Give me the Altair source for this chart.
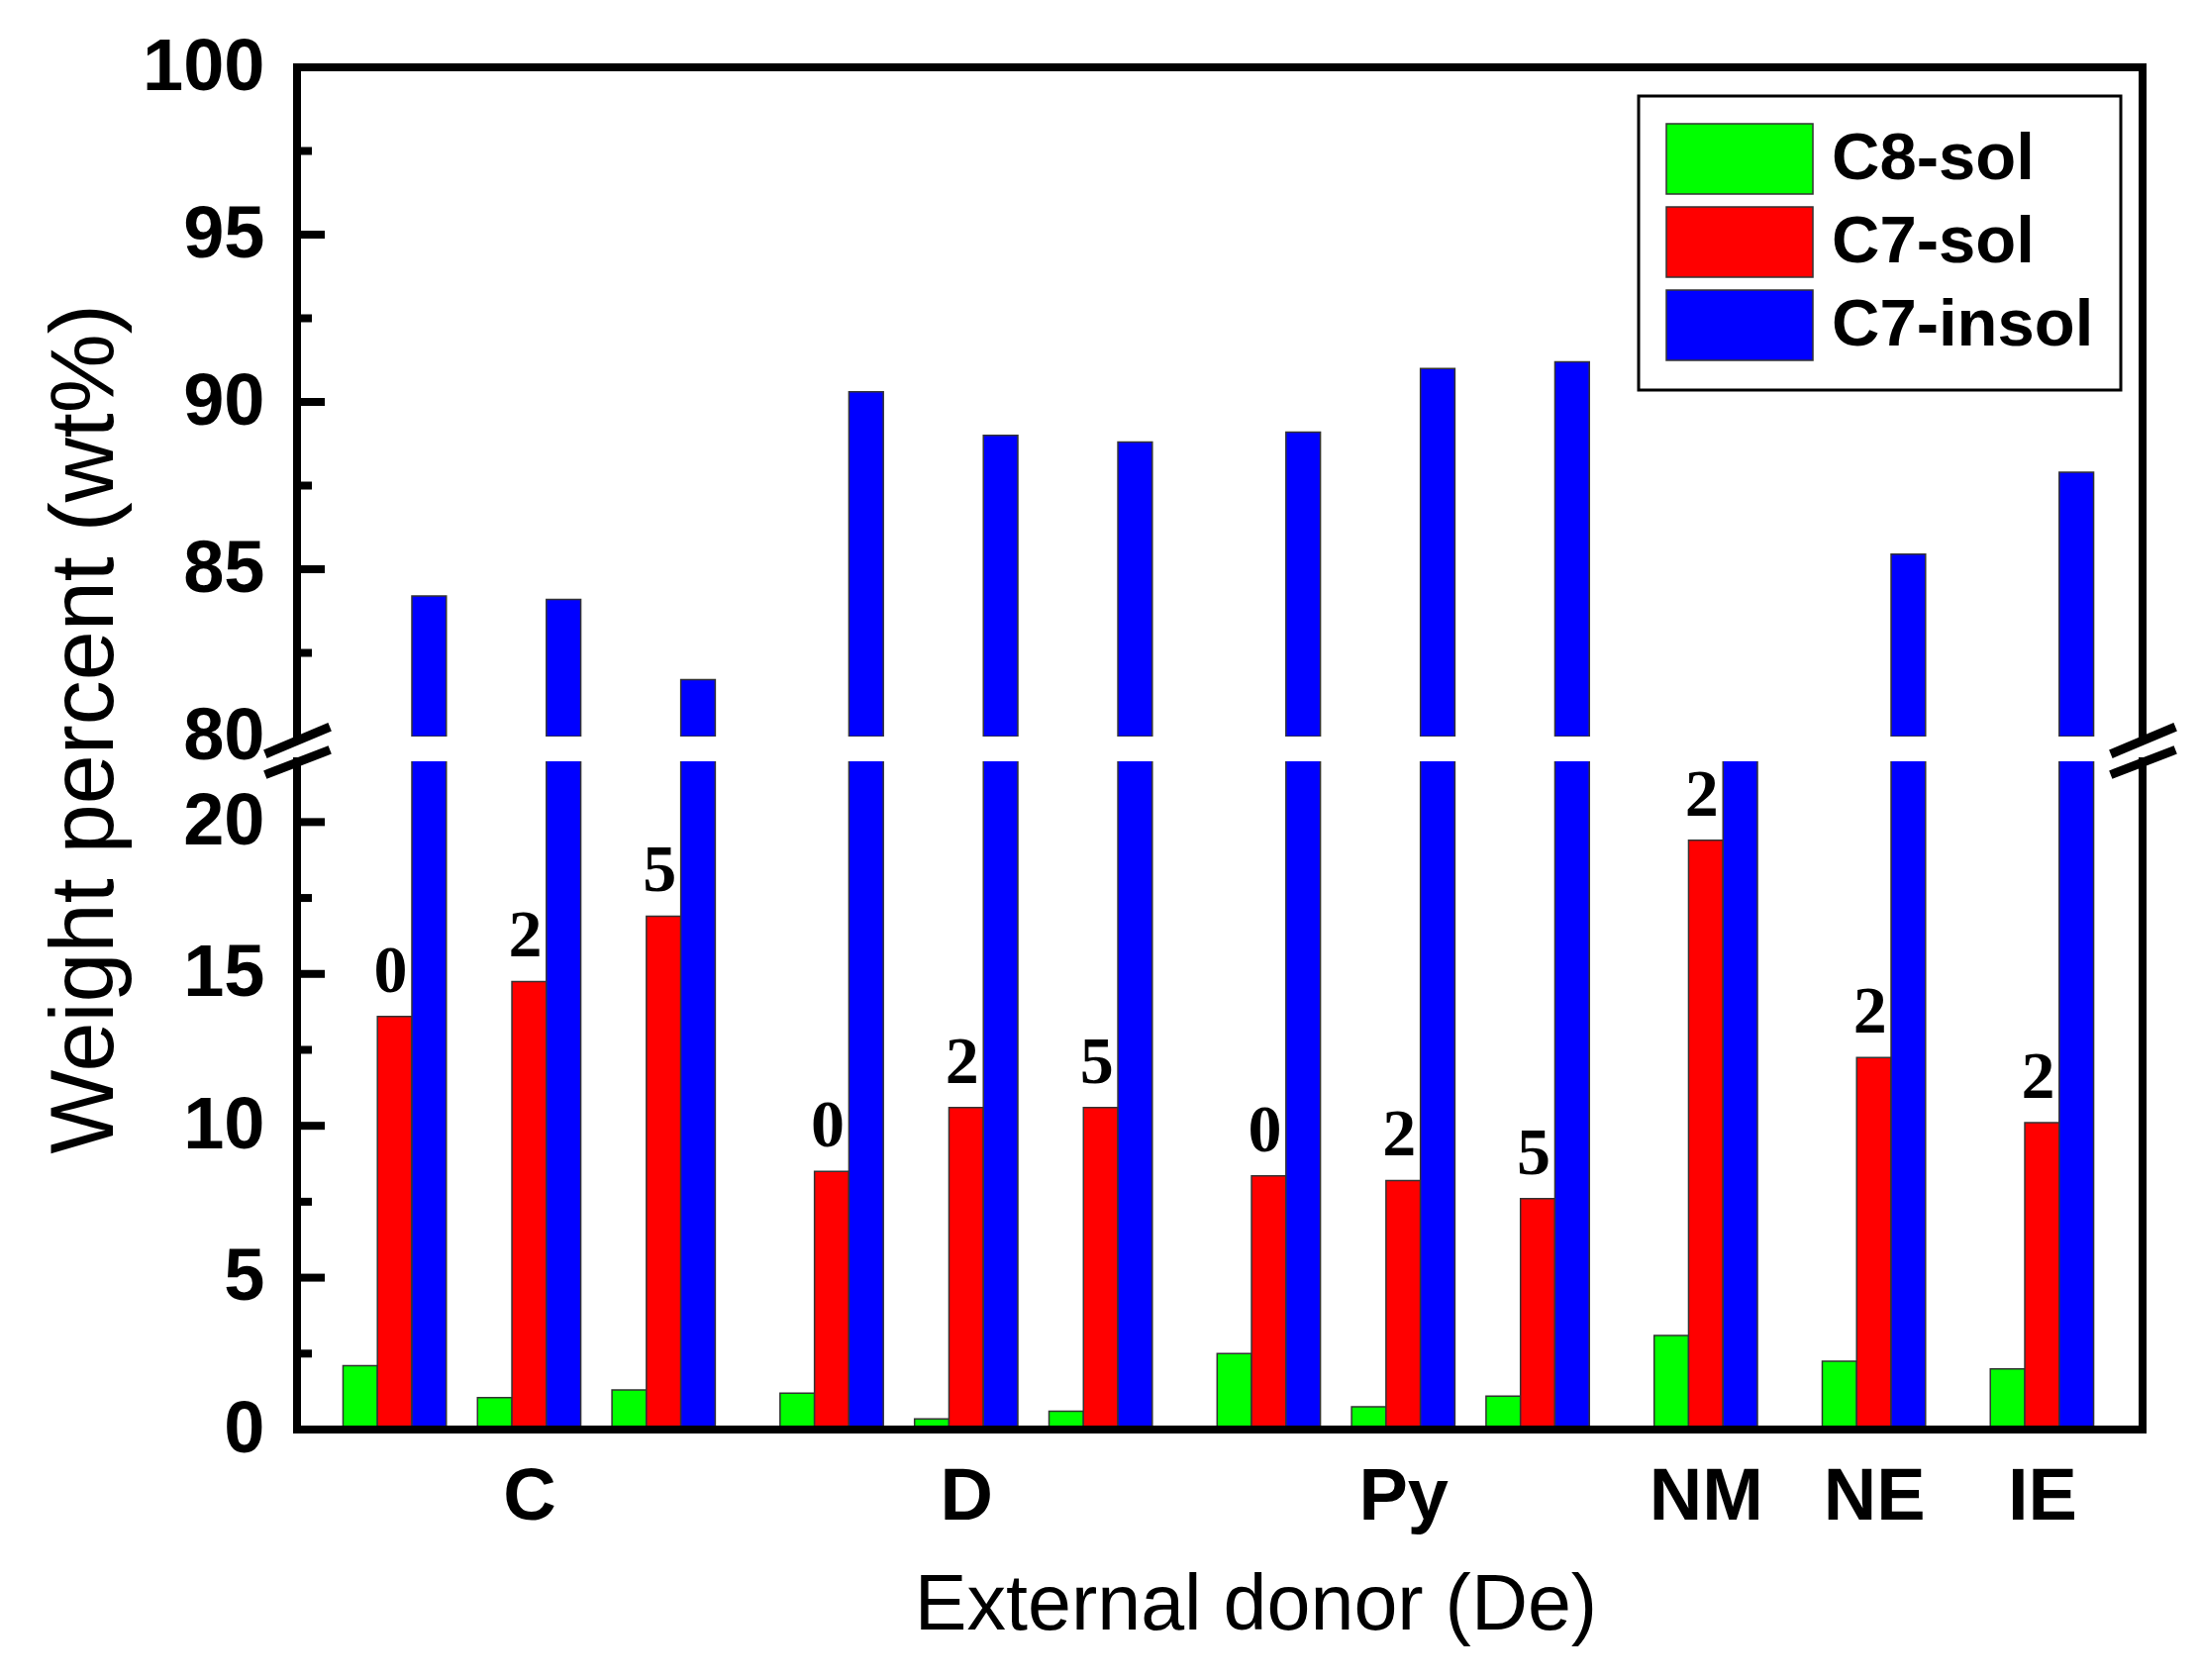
import altair as alt
import pandas as pd

# subgroup data: donor, amount label above the red bar, and wt% of each fraction
donors = ['C', 'C', 'C', 'D', 'D', 'D', 'Py', 'Py', 'Py', 'NM', 'NE', 'IE']
levels = ['0', '2', '5', '0', '2', '5', '0', '2', '5', '2', '2', '2']
c8_sol = [2.1, 1.05, 1.3, 1.2, 0.35, 0.6, 2.5, 0.75, 1.1, 3.1, 2.25, 2.0]
c7_sol = [13.6, 14.75, 16.9, 8.5, 10.6, 10.6, 8.35, 8.2, 7.6, 19.4, 12.25, 10.1]
c7_insol = [84.2, 84.1, 81.7, 90.3, 89.0, 88.8, 89.1, 91.0, 91.2, 77.5, 85.45, 87.9]

series = ['C8-sol', 'C7-sol', 'C7-insol']
colors = ['#00FF00', '#FF0000', '#0000FF']

upper_ticks = [80, 85, 90, 95, 100]
upper_minor = [82.5, 87.5, 92.5, 97.5]
lower_ticks = [0, 5, 10, 15, 20]
lower_minor = [2.5, 7.5, 12.5, 17.5]

# layout
W, H_TOP, H_BOT, GAP = 1864, 676, 675, 25
BAR = 0.256
FONT = 'Liberation Sans'

rows = []
g, prev = -1, None
for i, (d, lv) in enumerate(zip(donors, levels)):
    if d != prev:
        g += 1
        prev = d
    pos = i + 0.25 * g
    for k, (s, vals) in enumerate(zip(series, [c8_sol, c7_sol, c7_insol])):
        rows.append({
            'donor': d, 'level': lv, 'series': s, 'value': vals[i], 'pos': pos,
            'x0': pos + (k - 1.5) * BAR, 'x1': pos + (k - 0.5) * BAR,
        })
df = pd.DataFrame(rows)

centers = df.groupby('donor', sort=False)['pos'].mean()
label_expr = ' : '.join(f"abs(datum.value - {v}) < 0.01 ? '{k}'" for k, v in centers.items()) + " : ''"

xs = alt.Scale(domain=[-0.726, 12.998], nice=False, zero=False)
ys_top = alt.Scale(domain=[80, 100], nice=False, zero=False)
ys_bot = alt.Scale(domain=[0, 22], nice=False, zero=False)
cscale = alt.Scale(domain=series, range=colors)

one = pd.DataFrame({'value': [0]})


def seg(x1, y1, x2, y2, w=8):
    return alt.Chart(one).mark_rule(color='black', strokeWidth=w, strokeCap='square').encode(
        x=alt.value(x1), x2=alt.value(x2), y=alt.value(y1), y2=alt.value(y2))


def ticks(vals, scale, length):
    return alt.Chart(pd.DataFrame({'value': vals})).mark_rule(color='black', strokeWidth=8).encode(
        y=alt.Y('value:Q', scale=scale), x=alt.value(0), x2=alt.value(length))


# upper panel (80-100)
bars_top = alt.Chart(df).transform_filter(
    (alt.datum.series == 'C7-insol') & (alt.datum.value >= 80)
).transform_calculate(base='80').mark_bar(clip=True, stroke='#333', strokeWidth=1.5).encode(
    x=alt.X('x0:Q', scale=xs, axis=None),
    x2='x1',
    y=alt.Y('value:Q', scale=ys_top, axis=alt.Axis(
        values=upper_ticks, ticks=False, tickSize=0, domain=False, grid=False, labelPadding=33,
        title='Weight percent (wt%)', titleFontSize=90, titleFontWeight='normal',
        titleX=-214, titleY=668, titleAngle=270, titleBaseline='middle', titleAlign='center')),
    y2='base:Q',
    color=alt.Color('series:N', scale=cscale, legend=alt.Legend(
        title=None, orient='none', legendX=1355, legendY=29,
        # wide swatch: 71px tall, 148px wide, left edge at the entry origin
        symbolType='M-1,-1H3.17V1H-1Z', symbolSize=71 ** 2,
        symbolStrokeColor='#333', symbolStrokeWidth=1.5, symbolOpacity=1,
        labelFont=FONT, labelFontWeight='bold', labelFontSize=67, labelOffset=95,
        labelLimit=0, rowPadding=7, padding=27, strokeColor='black')),
)

top = alt.layer(
    bars_top,
    ticks(upper_ticks[1:-1], ys_top, 28),
    ticks(upper_minor, ys_top, 15),
    seg(0, 0, W, 0), seg(0, 0, 0, H_TOP), seg(W, 0, W, H_TOP),
).properties(width=W, height=H_TOP)

# lower panel (0-22)
bars_bot = alt.Chart(df).transform_calculate(base='0').mark_bar(
    clip=True, stroke='#333', strokeWidth=1.5
).encode(
    x=alt.X('x0:Q', scale=xs, axis=alt.Axis(
        values=list(centers.values), labelExpr=label_expr, ticks=False, tickSize=0, domain=False,
        grid=False, labelOverlap=False, labelFlush=False, labelFontSize=74, labelPadding=68,
        labelBaseline='middle',
        title='External donor (De)', titleFontSize=79, titleFontWeight='normal',
        titleX=968, titleY=177, titleBaseline='middle', titleAlign='center')),
    x2='x1',
    y=alt.Y('value:Q', scale=ys_bot, axis=alt.Axis(
        values=lower_ticks, ticks=False, tickSize=0, domain=False, grid=False,
        labelPadding=33, title=None)),
    y2='base:Q',
    color=alt.Color('series:N', scale=cscale, legend=None),
)

amounts = alt.Chart(df).transform_filter(
    alt.datum.series == 'C7-sol'
).mark_text(font='Liberation Serif', fontWeight='bold', fontSize=68, baseline='alphabetic',
            dy=-25, dx=-4, color='black').encode(
    x=alt.X('pos:Q', scale=xs),
    y=alt.Y('value:Q', scale=ys_bot),
    text='level:N',
)

bottom = alt.layer(
    bars_bot, amounts,
    ticks(lower_ticks[1:], ys_bot, 28),
    ticks(lower_minor, ys_bot, 15),
    seg(0, 0, 0, H_BOT), seg(W, 0, W, H_BOT), seg(0, H_BOT, W, H_BOT),
    # axis break marks
    seg(-28, -9, 29, -33, 9), seg(-28, 12, 29, -10, 9),
    seg(W - 28, -9, W + 29, -33, 9), seg(W - 28, 12, W + 29, -10, 9),
).properties(width=W, height=H_BOT)

chart = alt.vconcat(top, bottom, spacing=GAP, bounds='flush').properties(
    padding={'left': 33, 'top': 23, 'right': 10, 'bottom': 10}
).configure_view(stroke=None).configure_axis(
    labelFont=FONT, labelFontWeight='bold', labelFontSize=74, labelColor='black',
    titleFont=FONT, titleColor='black',
).configure_legend(strokeWidth=3)

chart.save("out.html", embed_options={"renderer": "svg", "actions": False})
